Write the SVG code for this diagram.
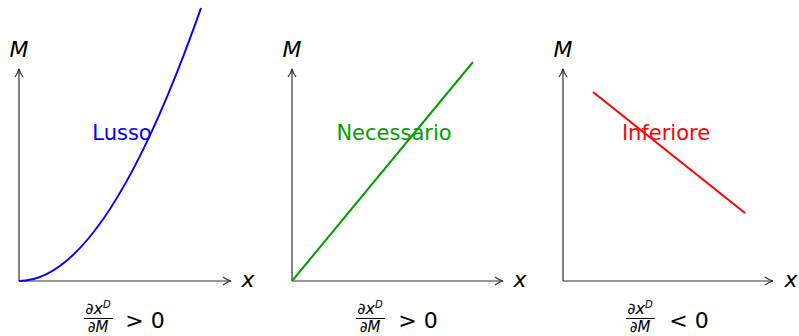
<svg xmlns="http://www.w3.org/2000/svg" width="799" height="336" viewBox="0 0 799 336">
<style>
.ax{stroke:#333;stroke-width:1.2;fill:none}
.t{font-family:"DejaVu Sans","Liberation Sans",sans-serif}
.it{font-family:"DejaVu Sans","Liberation Sans",sans-serif;font-style:italic}
.lbl{font-family:"DejaVu Sans","Liberation Sans",sans-serif;font-size:21px}
</style>
<defs>
<marker id="arr" viewBox="0 0 10 10" refX="9" refY="5" markerWidth="10" markerHeight="10" markerUnits="userSpaceOnUse" orient="auto">
<path d="M1,1 Q5,4 9,5 Q5,6 1,9" fill="none" stroke="#333" stroke-width="1.2"/>
</marker>
</defs>
<rect width="799" height="336" fill="#fff"/>
<g id="connectors">
<line class="ax" x1="19" y1="281" x2="19" y2="69" marker-end="url(#arr)"/>
<line class="ax" x1="19" y1="281" x2="231" y2="281" marker-end="url(#arr)"/>
<line class="ax" x1="292" y1="281" x2="292" y2="69" marker-end="url(#arr)"/>
<line class="ax" x1="292" y1="281" x2="503" y2="281" marker-end="url(#arr)"/>
<line class="ax" x1="563" y1="281" x2="563" y2="69" marker-end="url(#arr)"/>
<line class="ax" x1="563" y1="281" x2="773" y2="281" marker-end="url(#arr)"/>
</g>
<g id="panel-lusso">
<path d="M19,281 Q105,281 201,8" fill="none" stroke="#0000ff" stroke-width="2"/>
<text class="lbl" x="122" y="140" text-anchor="middle" fill="#0000ff">Lusso</text>
<text class="it" x="19" y="57" font-size="22" text-anchor="middle">M</text>
<text class="it" x="248" y="287" font-size="22" text-anchor="middle">x</text>
<text class="it" x="98" y="314" font-size="16" text-anchor="middle">∂x<tspan font-size="10" dy="-6">D</tspan></text>
<line x1="84" y1="318.5" x2="113" y2="318.5" stroke="#000" stroke-width="1"/>
<text class="it" x="98" y="332" font-size="15" text-anchor="middle">∂M</text>
<text class="t" x="145" y="328" font-size="22" text-anchor="middle">&gt; 0</text>
</g>
<g id="panel-necessario">
<line x1="292" y1="281" x2="473" y2="62" stroke="#00a000" stroke-width="2"/>
<text class="lbl" x="394" y="140" text-anchor="middle" fill="#00a000">Necessario</text>
<text class="it" x="292" y="57" font-size="22" text-anchor="middle">M</text>
<text class="it" x="520" y="287" font-size="22" text-anchor="middle">x</text>
<text class="it" x="370" y="314" font-size="16" text-anchor="middle">∂x<tspan font-size="10" dy="-6">D</tspan></text>
<line x1="356" y1="318.5" x2="385" y2="318.5" stroke="#000" stroke-width="1"/>
<text class="it" x="370" y="332" font-size="15" text-anchor="middle">∂M</text>
<text class="t" x="418" y="328" font-size="22" text-anchor="middle">&gt; 0</text>
</g>
<g id="panel-inferiore">
<line x1="593" y1="92" x2="745" y2="213" stroke="#ff0000" stroke-width="2"/>
<text class="lbl" x="666" y="140" text-anchor="middle" fill="#ff0000">Inferiore</text>
<text class="it" x="563" y="57" font-size="22" text-anchor="middle">M</text>
<text class="it" x="791" y="287" font-size="22" text-anchor="middle">x</text>
<text class="it" x="640" y="314" font-size="16" text-anchor="middle">∂x<tspan font-size="10" dy="-6">D</tspan></text>
<line x1="626" y1="318.5" x2="655" y2="318.5" stroke="#000" stroke-width="1"/>
<text class="it" x="640" y="332" font-size="15" text-anchor="middle">∂M</text>
<text class="t" x="689" y="328" font-size="22" text-anchor="middle">&lt; 0</text>
</g>
</svg>
